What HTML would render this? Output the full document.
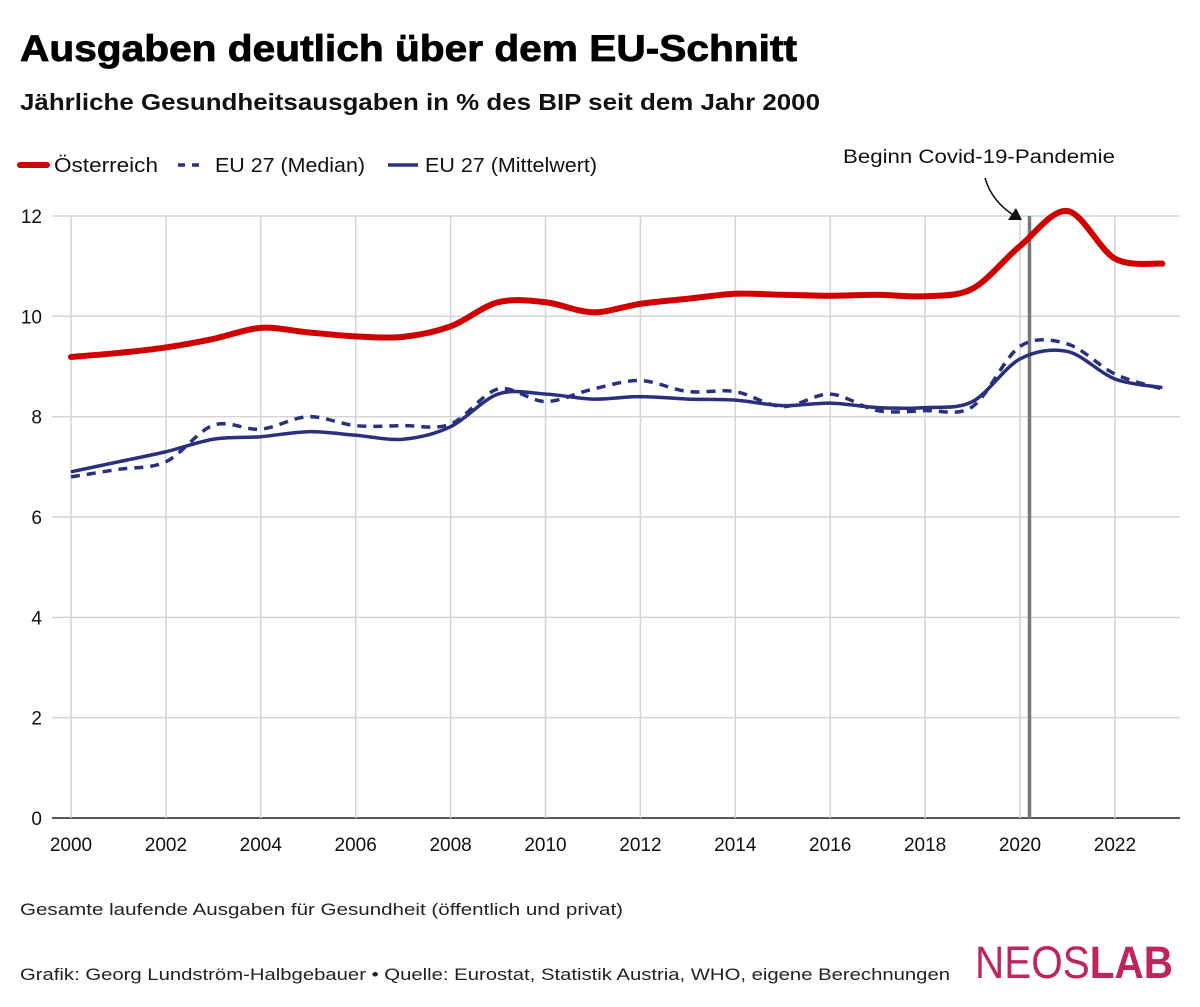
<!DOCTYPE html>
<html><head><meta charset="utf-8"><style>
html,body{margin:0;padding:0;background:#fff}
svg{display:block;font-family:"Liberation Sans",sans-serif}
</style></head><body>
<svg id="chart" width="1200" height="1007" viewBox="0 0 1200 1007">
<text x="20" y="61" font-size="37" font-weight="900" fill="#000" textLength="777" lengthAdjust="spacingAndGlyphs" stroke="#000" stroke-width="0.8">Ausgaben deutlich über dem EU-Schnitt</text>
<text x="20" y="110" font-size="23" font-weight="bold" fill="#111" textLength="800" lengthAdjust="spacingAndGlyphs">Jährliche Gesundheitsausgaben in % des BIP seit dem Jahr 2000</text>
<g>
<g><line x1="20" y1="165" x2="47" y2="165" stroke="#d00000" stroke-width="6" stroke-linecap="round"/><text x="54" y="172" font-size="20" fill="#111" textLength="104" lengthAdjust="spacingAndGlyphs">Österreich</text></g>
<g><line x1="178" y1="165" x2="205" y2="165" stroke="#28307f" stroke-width="3.5" stroke-dasharray="7,7"/><text x="215" y="172" font-size="20" fill="#111" textLength="150" lengthAdjust="spacingAndGlyphs">EU 27 (Median)</text></g>
<g><line x1="388" y1="165" x2="418" y2="165" stroke="#28307f" stroke-width="3.5"/><text x="425" y="172" font-size="20" fill="#111" textLength="172" lengthAdjust="spacingAndGlyphs">EU 27 (Mittelwert)</text></g>
</g>
<g id="grid"></g>
<g id="axes"></g>
<g id="series"></g>
<g>
<text x="979" y="163" font-size="19" fill="#111" text-anchor="middle" textLength="272" lengthAdjust="spacingAndGlyphs">Beginn Covid-19-Pandemie</text>
<path d="M985 178 Q992 202 1015 216" fill="none" stroke="#111" stroke-width="1.5"/>
<polygon points="1022,220 1008,220 1016,208" fill="#111"/>
</g>
<text x="20" y="915" font-size="17" fill="#222" textLength="603" lengthAdjust="spacingAndGlyphs">Gesamte laufende Ausgaben für Gesundheit (öffentlich und privat)</text>
<text x="20" y="980" font-size="17" fill="#222" textLength="930" lengthAdjust="spacingAndGlyphs">Grafik: Georg Lundström-Halbgebauer • Quelle: Eurostat, Statistik Austria, WHO, eigene Berechnungen</text>
<text x="975" y="978" font-size="45" fill="#c0245f" textLength="198" lengthAdjust="spacingAndGlyphs"><tspan>NEOS</tspan><tspan font-weight="bold">LAB</tspan></text>
</svg>
<script>
const years = [2000,2001,2002,2003,2004,2005,2006,2007,2008,2009,2010,2011,2012,2013,2014,2015,2016,2017,2018,2019,2020,2021,2022,2023];
const austria = [9.19,9.27,9.38,9.55,9.77,9.68,9.6,9.59,9.8,10.28,10.28,10.08,10.25,10.35,10.45,10.43,10.41,10.43,10.4,10.55,11.4,12.1,11.15,11.05];
const euMedian = [6.8,6.95,7.1,7.83,7.75,8.0,7.82,7.82,7.85,8.55,8.3,8.55,8.72,8.5,8.5,8.2,8.45,8.12,8.12,8.2,9.4,9.45,8.85,8.55];
const euMean = [6.9,7.1,7.3,7.55,7.6,7.7,7.63,7.55,7.8,8.45,8.45,8.35,8.4,8.35,8.33,8.22,8.27,8.18,8.18,8.3,9.15,9.3,8.75,8.58];
const yTicks = [0,2,4,6,8,10,12];
const xTicks = [2000,2002,2004,2006,2008,2010,2012,2014,2016,2018,2020,2022];
const covidYear = 2020.2;

const NS = "http://www.w3.org/2000/svg";
const x = v => 71 + (v - 2000) * 47.45;
const y = v => 818 - v * 50.17;
function mk(tag, attrs, parent){const e=document.createElementNS(NS,tag);for(const k in attrs)e.setAttribute(k,attrs[k]);parent.appendChild(e);return e;}
const grid=document.getElementById('grid'), axes=document.getElementById('axes'), series=document.getElementById('series');
yTicks.forEach(t=>{
  const l=mk('line',{x1:52,x2:1180,y1:y(t),y2:y(t),stroke:t===0?'#222':'#d4d4d4','stroke-width':t===0?1.5:1.5},grid);
  
  
  const tx=mk('text',{x:42,y:y(t)+7,'font-size':19,fill:'#111','text-anchor':'end'},axes);
  tx.textContent=t;
  
  
});
xTicks.forEach(t=>{
  const l=mk('line',{x1:x(t),x2:x(t),y1:216,y2:818,stroke:'#d4d4d4','stroke-width':1.5},grid);
  
  
  const tx=mk('text',{x:x(t),y:851,'font-size':19,fill:'#111','text-anchor':'middle'},axes);
  tx.textContent=t;
  
  
});
function path(vals){
  const p=vals.map((v,i)=>[x(years[i]),y(v)]);
  let d=`M${p[0][0]},${p[0][1]}`;
  for(let i=0;i<p.length-1;i++){
    const p0=p[Math.max(0,i-1)],p1=p[i],p2=p[i+1],p3=p[Math.min(p.length-1,i+2)];
    const t=0.16;
    d+=` C${p1[0]+(p2[0]-p0[0])*t},${p1[1]+(p2[1]-p0[1])*t} ${p2[0]-(p3[0]-p1[0])*t},${p2[1]-(p3[1]-p1[1])*t} ${p2[0]},${p2[1]}`;
  }
  return d;
}
const cl=mk('line',{x1:x(covidYear),x2:x(covidYear),y1:216,y2:818,stroke:'#777','stroke-width':3.5},grid);


const m=mk('path',{d:path(euMedian),fill:'none',stroke:'#28307f','stroke-width':3.5,'stroke-dasharray':'9,7'},series);


const mn=mk('path',{d:path(euMean),fill:'none',stroke:'#28307f','stroke-width':3.5},series);


const a=mk('path',{d:path(austria),fill:'none',stroke:'#d00000','stroke-width':6,'stroke-linecap':'round'},series);


</script>
</body></html>
